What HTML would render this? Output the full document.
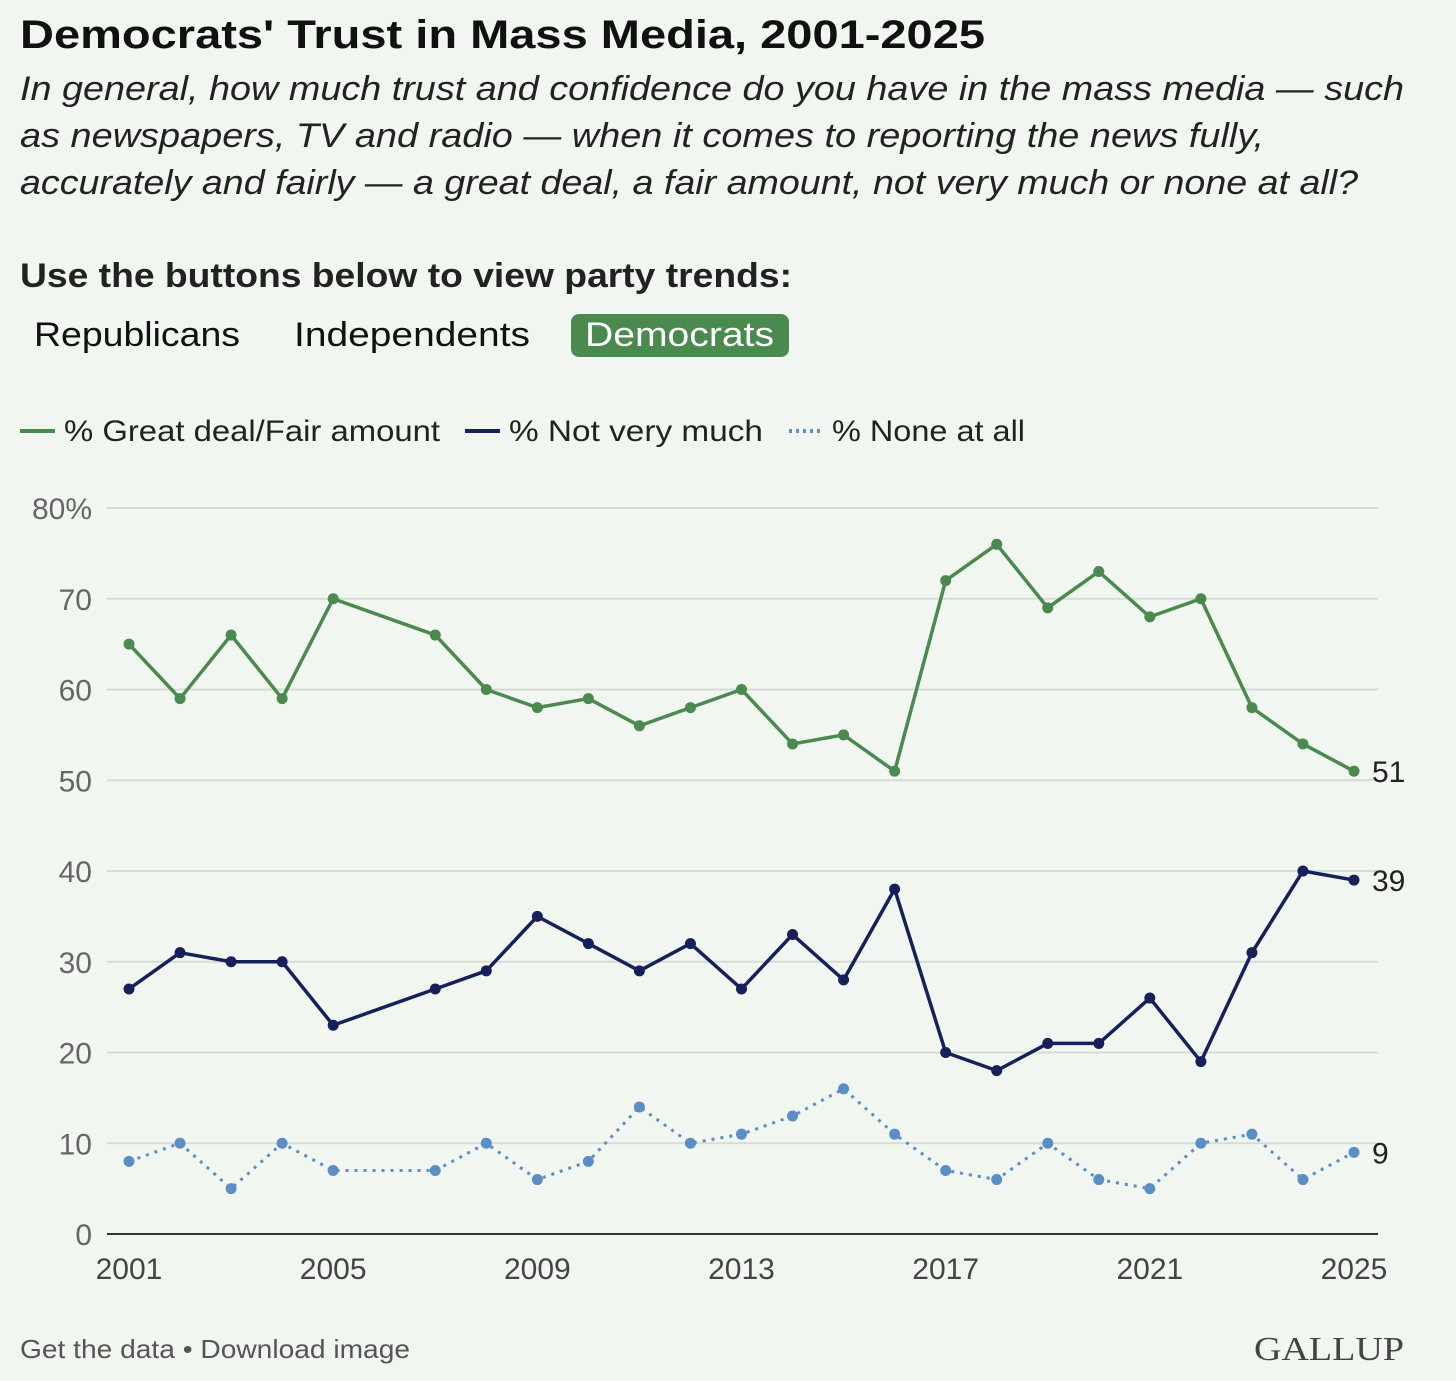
<!DOCTYPE html>
<html><head><meta charset="utf-8">
<style>
html,body{margin:0;padding:0;background:#f1f6f0;}
svg{display:block;font-family:"Liberation Sans",sans-serif;}
</style></head>
<body>
<svg id="chart" width="1456" height="1381" viewBox="0 0 1456 1381">
<rect x="0" y="0" width="1456" height="1381" fill="#f1f6f0"/>
<text x="20" y="48" font-size="40" font-weight="bold" fill="#111" textLength="965" lengthAdjust="spacingAndGlyphs">Democrats' Trust in Mass Media, 2001-2025</text>
<g font-size="34" font-style="italic" fill="#222">
<text x="20" y="100" textLength="1384" lengthAdjust="spacingAndGlyphs">In general, how much trust and confidence do you have in the mass media — such</text>
<text x="20" y="147" textLength="1244" lengthAdjust="spacingAndGlyphs">as newspapers, TV and radio — when it comes to reporting the news fully,</text>
<text x="20" y="194" textLength="1338" lengthAdjust="spacingAndGlyphs">accurately and fairly — a great deal, a fair amount, not very much or none at all?</text>
</g>
<text x="20" y="287" font-size="34" font-weight="bold" fill="#222" textLength="772" lengthAdjust="spacingAndGlyphs">Use the buttons below to view party trends:</text>
<text x="34" y="346" font-size="34" fill="#111" textLength="206" lengthAdjust="spacingAndGlyphs">Republicans</text>
<text x="294" y="346" font-size="34" fill="#111" textLength="236" lengthAdjust="spacingAndGlyphs">Independents</text>
<g>
<rect x="571" y="314" width="218" height="43" rx="8" fill="#4a8a4f"/>
<text x="585" y="346" font-size="34" fill="#fff" textLength="189" lengthAdjust="spacingAndGlyphs">Democrats</text>
</g>
<g font-size="30" fill="#222">
<g><line x1="20" y1="431" x2="55" y2="431" stroke="#4a8a4f" stroke-width="4"/><text x="64" y="441" textLength="376" lengthAdjust="spacingAndGlyphs">% Great deal/Fair amount</text></g>
<g><line x1="465" y1="431" x2="500" y2="431" stroke="#16205a" stroke-width="4"/><text x="509" y="441" textLength="254" lengthAdjust="spacingAndGlyphs">% Not very much</text></g>
<g><line x1="789" y1="431" x2="824" y2="431" stroke="#5a8ec4" stroke-width="4" stroke-dasharray="3,4"/><text x="832" y="441" textLength="193" lengthAdjust="spacingAndGlyphs">% None at all</text></g>
</g>
<g id="plot"></g>
<text x="20" y="1358" font-size="26" fill="#555" textLength="390" lengthAdjust="spacingAndGlyphs">Get the data • Download image</text>
<text x="1254" y="1360" font-size="34" font-family="Liberation Serif,serif" fill="#444" textLength="150" lengthAdjust="spacingAndGlyphs">GALLUP</text>
</svg>
<script>
const years=[2001,2002,2003,2004,2005,2007,2008,2009,2010,2011,2012,2013,2014,2015,2016,2017,2018,2019,2020,2021,2022,2023,2024,2025];
const greatDeal=[65,59,66,59,70,66,60,58,59,56,58,60,54,55,51,72,76,69,73,68,70,58,54,51];
const notVeryMuch=[27,31,30,30,23,27,29,35,32,29,32,27,33,28,38,20,18,21,21,26,19,31,40,39];
const noneAtAll=[8,10,5,10,7,7,10,6,8,14,10,11,13,16,11,7,6,10,6,5,10,11,6,9];
const yTicks=[0,10,20,30,40,50,60,70,80];
const yTickLabels=["0","10","20","30","40","50","60","70","80%"];
const xTicks=[2001,2005,2009,2013,2017,2021,2025];

const NS="http://www.w3.org/2000/svg";
const plot=document.getElementById('plot');
const X=y=>129+(y-2001)*(1354-129)/24;
const Y=v=>1234-v*(1234-508)/80;
function mk(t,a,p){const e=document.createElementNS(NS,t);for(const k in a)e.setAttribute(k,a[k]);(p||plot).appendChild(e);return e;}
yTicks.forEach((t,i)=>{
  const l=mk('line',{x1:107,x2:1378,y1:Y(t),y2:Y(t),stroke:t===0?'#333':'#d6dcd5','stroke-width':t===0?2:2});
  
  
  const tx=mk('text',{x:92,y:Y(t)+11,'text-anchor':'end','font-size':30,fill:'#666'});
  tx.textContent=yTickLabels[i];
  
  
});
xTicks.forEach(t=>{
  const tx=mk('text',{x:X(t),y:1279,'text-anchor':'middle','font-size':30,fill:'#444'});
  tx.textContent=t;
  
  
});
function series(vals,color,dash,name){
  const g=mk('g',{});
  
  
  const d=vals.map((v,i)=>(i?'L':'M')+X(years[i])+','+Y(v)).join('');
  const p=mk('path',{d:d,fill:'none',stroke:color,'stroke-width':dash?3:3.5,'stroke-linejoin':'round'},g);
  if(dash)p.setAttribute('stroke-dasharray','3,6');
  
  
  vals.forEach((v,i)=>{
    const c=mk('circle',{cx:X(years[i]),cy:Y(v),r:5.5,fill:color},g);
    
    
  });
  const last=vals[vals.length-1];
  const t=mk('text',{x:1372,y:Y(last)+11,'font-size':30,fill:'#222'},g);
  t.textContent=last;
  
  
}
series(noneAtAll,'#5a8ec4',true,'none-at-all-series');
series(notVeryMuch,'#16205a',false,'not-very-much-series');
series(greatDeal,'#4a8a4f',false,'great-deal-series');
</script>
</body></html>
